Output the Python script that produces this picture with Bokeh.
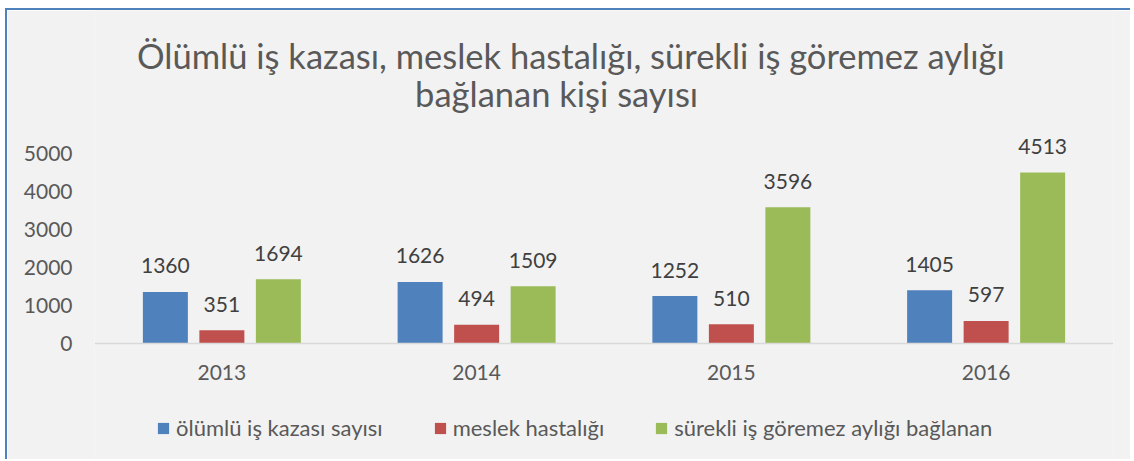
from bokeh.plotting import figure
from bokeh.models import ColumnDataSource, FixedTicker, Label, Legend, LegendItem, Spacer
from bokeh.layouts import column, row
from bokeh.transform import dodge
from bokeh.core.properties import value
from bokeh.embed import file_html
from bokeh.resources import INLINE

# ---- data ----
years = ["2013", "2014", "2015", "2016"]
olumlu = [1360, 1626, 1252, 1405]
meslek = [351, 494, 510, 597]
surekli = [1694, 1509, 3596, 4513]
series_names = ["ölümlü iş kazası sayısı", "meslek hastalığı", "sürekli iş göremez aylığı bağlanan"]
y_ticks = [0, 1000, 2000, 3000, 4000, 5000]
title_lines = ["Ölümlü iş kazası, meslek hastalığı, sürekli iş göremez aylığı", "bağlanan kişi sayısı"]

colors = ["#4f81bd", "#c0504d", "#9bbb59"]
FONT = "Lato"
TXT = "#595959"
BG = "#f2f2f2"

src = ColumnDataSource(dict(
    year=years,
    olumlu=olumlu, meslek=meslek, surekli=surekli,
    olumlu_t=[str(v) for v in olumlu],
    meslek_t=[str(v) for v in meslek],
    surekli_t=[str(v) for v in surekli],
))

p = figure(x_range=years, y_range=(-3113, 8786), width=1125, height=451,
           output_backend="svg", toolbar_location=None,
           min_border_left=87, min_border_right=19, min_border_top=0, min_border_bottom=0)
p.styles = {"border-left": "2px solid #4f81bd", "border-top": "2px solid #4f81bd"}
p.background_fill_color = BG
p.border_fill_color = BG
p.outline_line_color = None
p.xgrid.grid_line_color = None
p.ygrid.grid_line_color = None

bw = 0.1766
off = 0.2218
cols = ["olumlu", "meslek", "surekli"]
renderers = []
for i, (c, col) in enumerate(zip(cols, colors)):
    r = p.vbar(x=dodge("year", (i - 1) * off, range=p.x_range), top=c, width=bw,
               source=src, fill_color=col, line_color=None)
    renderers.append(r)
    p.text(x=dodge("year", (i - 1) * off, range=p.x_range), y=c, text=c + "_t", source=src,
           text_font=value(FONT), text_font_size="21px", text_color="#404040",
           text_align="center", text_baseline="alphabetic", y_offset=-26)

# axes
p.yaxis.ticker = FixedTicker(ticks=y_ticks)
p.yaxis.axis_line_color = None
p.yaxis.major_tick_line_color = None
p.yaxis.minor_tick_line_color = None
p.yaxis.major_tick_out = 0
p.yaxis.major_tick_in = 0
p.yaxis.major_label_standoff = 22
p.yaxis.major_label_text_font = FONT
p.yaxis.major_label_text_font_size = "21px"
p.yaxis.major_label_text_color = TXT

p.xaxis.fixed_location = 0
p.xaxis.axis_line_color = "#d9d9d9"
p.xaxis.axis_line_width = 1.5
p.xaxis.major_tick_line_color = None
p.xaxis.minor_tick_line_color = None
p.xaxis.major_tick_out = 0
p.xaxis.major_tick_in = 0
p.xaxis.major_label_standoff = 21
p.xaxis.major_label_text_font = FONT
p.xaxis.major_label_text_font_size = "21px"
p.xaxis.major_label_text_color = TXT

# title
p.add_layout(Label(x=1.870, y=7599, text=title_lines[0], text_align="center",
                   text_baseline="alphabetic", text_font=FONT, text_font_size="34.5px",
                   text_color=TXT))
p.add_layout(Label(x=1.814, y=6596, text=title_lines[1], text_align="center",
                   text_baseline="alphabetic", text_font=FONT, text_font_size="34.5px",
                   text_color=TXT))

legend = Legend(items=[LegendItem(label=n, renderers=[r]) for n, r in zip(series_names, renderers)],
                orientation="horizontal", location=(62, 20), glyph_width=14, glyph_height=14,
                label_standoff=6, spacing=50, padding=0, margin=0,
                label_text_font=FONT, label_text_font_size="22px", label_text_color=TXT,
                border_line_color=None, background_fill_alpha=0)
p.add_layout(legend)

layout = column(Spacer(height=8), row(Spacer(width=5), p))
open("out.html", "w").write(file_html(layout, INLINE))
